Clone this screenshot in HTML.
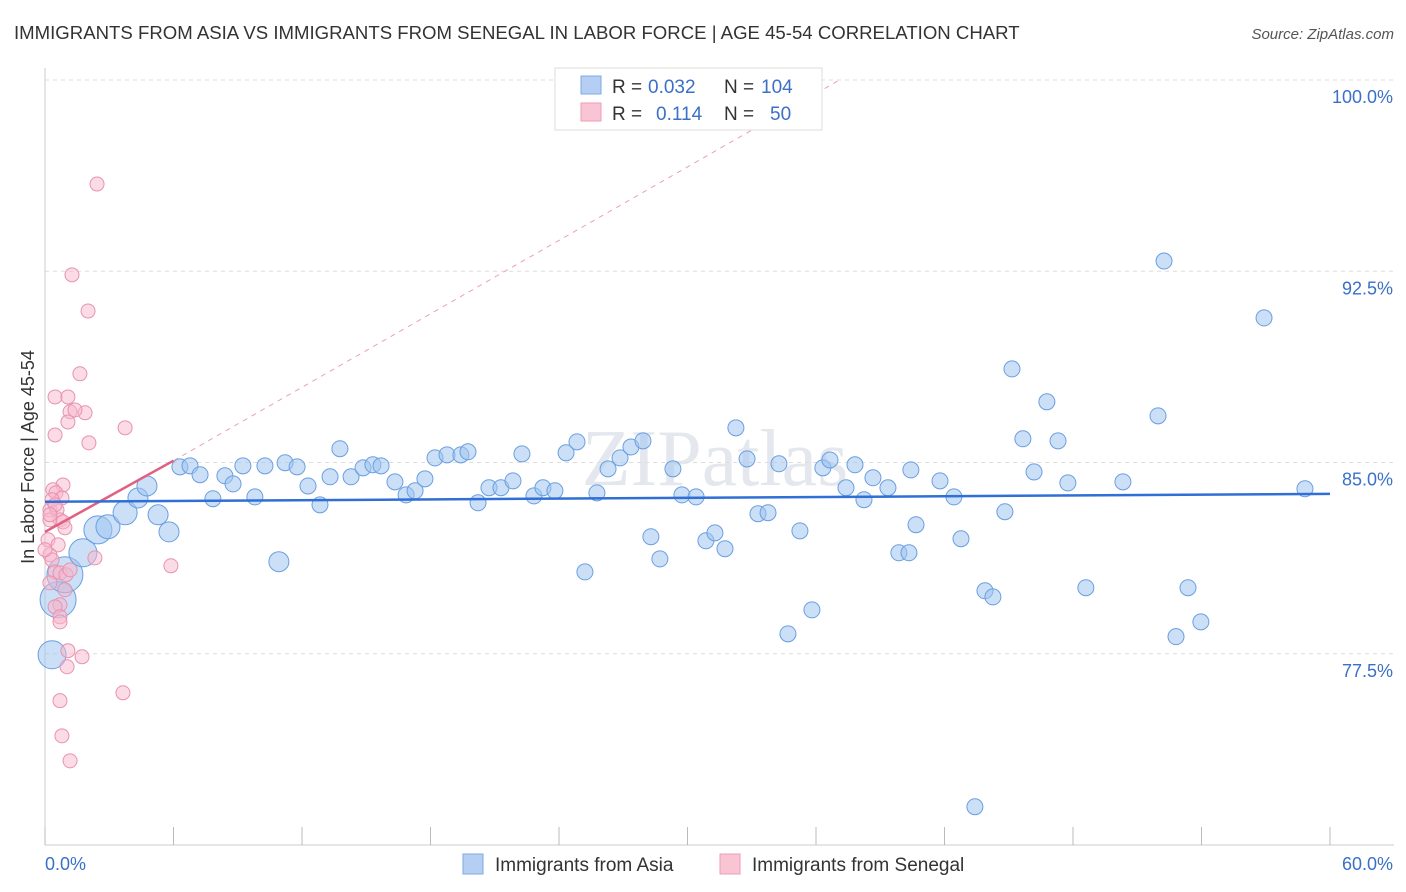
<!DOCTYPE html>
<html><head><meta charset="utf-8"><style>
body{margin:0;background:#fff;font-family:"Liberation Sans",sans-serif;}
#c{position:relative;width:1406px;height:892px;overflow:hidden}
</style></head><body>
<div id="c">
<svg id="svg" width="1406" height="892" xmlns="http://www.w3.org/2000/svg">
<text x="14" y="39" font-size="18.6" fill="#333">IMMIGRANTS FROM ASIA VS IMMIGRANTS FROM SENEGAL IN LABOR FORCE | AGE 45-54 CORRELATION CHART</text>
<text x="1394" y="39" font-size="15" fill="#555" font-style="italic" text-anchor="end">Source: ZipAtlas.com</text>
<text x="34" y="457" font-size="18" fill="#333" text-anchor="middle" transform="rotate(-90 34 457)">In Labor Force | Age 45-54</text>
<text x="715" y="485" font-size="80" fill="#e4e8ee" text-anchor="middle" font-family="Liberation Serif,serif">ZIPatlas</text>
<g id="grid"></g><g id="marks"></g>
<g>
<rect x="555" y="68" width="267" height="62" fill="#fff" stroke="#ddd"/>
<rect x="581" y="76" width="20" height="18" fill="#b4cff3" stroke="#7ea8e4"/>
<rect x="581" y="103" width="20" height="18" fill="#f9c4d4" stroke="#ee9bb4"/>
<text x="612" y="93" font-size="19" fill="#333">R =</text>
<text x="648" y="93" font-size="19" fill="#3a70c8">0.032</text>
<text x="724" y="93" font-size="19" fill="#333">N =</text>
<text x="761" y="93" font-size="19" fill="#3a70c8">104</text>
<text x="612" y="120" font-size="19" fill="#333">R =</text>
<text x="656" y="120" font-size="19" fill="#3a70c8">0.114</text>
<text x="724" y="120" font-size="19" fill="#333">N =</text>
<text x="770" y="120" font-size="19" fill="#3a70c8">50</text>
</g>
<g>
<rect x="463" y="854" width="20" height="20" fill="#b4cff3" stroke="#7ea8e4"/>
<text x="495" y="871" font-size="19" fill="#333">Immigrants from Asia</text>
<rect x="720" y="854" width="20" height="20" fill="#f9c4d4" stroke="#ee9bb4"/>
<text x="752" y="871" font-size="19" fill="#333">Immigrants from Senegal</text>
</g>
</svg></div>
<script>
const xTicks=[0,6,12,18,24,30,36,42,48,54,60];
const yTicks=[77.5,85,92.5,100];
const yTickLabels=["77.5%","85.0%","92.5%","100.0%"];
const asiaX=[0.33,0.61,0.93,1.77,2.47,2.94,3.74,4.34,4.76,5.28,5.79,6.30,6.77,7.24,7.84,8.40,8.78,9.24,9.80,10.27,10.92,11.21,11.77,12.28,12.84,13.31,13.77,14.29,14.85,15.31,15.69,16.34,16.86,17.28,17.74,18.21,18.77,19.42,19.75,20.22,20.73,21.29,21.85,22.27,22.83,23.25,23.81,24.33,24.84,25.21,25.77,26.29,26.85,27.36,27.92,28.29,28.71,29.32,29.74,30.40,30.86,31.28,31.75,32.26,32.78,33.29,33.76,34.27,34.69,35.25,35.81,36.32,36.65,37.40,37.82,38.24,38.66,39.36,39.87,40.34,40.43,40.67,41.79,42.44,42.77,43.42,43.89,44.26,44.82,45.15,45.66,46.18,46.78,47.30,47.76,48.60,50.33,51.97,52.25,52.81,53.37,53.97,56.92,58.83];
const asiaY=[77.46,79.62,80.60,81.46,82.36,82.48,83.03,83.61,84.08,82.95,82.28,84.83,84.87,84.52,83.58,84.48,84.16,84.87,83.65,84.87,81.11,84.99,84.83,84.08,83.34,84.44,85.54,84.44,84.79,84.91,84.87,84.24,83.73,83.89,84.36,85.18,85.30,85.30,85.42,83.42,84.01,84.01,84.28,85.34,83.69,84.01,83.89,85.38,85.81,80.71,83.81,84.75,85.18,85.61,85.85,82.09,81.22,84.75,83.73,83.65,81.93,82.24,81.62,86.36,85.14,82.99,83.03,84.95,78.28,82.32,79.22,84.79,85.10,84.01,84.91,83.54,84.40,84.01,81.46,81.46,84.71,82.56,84.28,83.65,82.01,71.50,79.97,79.73,83.07,88.67,85.93,84.63,87.38,85.85,84.20,80.09,84.24,86.83,92.90,78.17,80.09,78.75,90.67,83.97];
const asiaSize=[14,18,18,14,14,12,12,10,10,10,10,8,8,8,8,8,8,8,8,8,10];
const senX=[2.43,1.26,2.01,1.63,0.47,1.07,1.17,1.87,1.40,1.07,0.47,3.74,2.05,0.84,0.37,0.51,0.79,0.23,0.56,0.70,0.23,0.84,0.23,0.33,0.47,2.33,0.70,0.98,1.17,0.23,0.93,0.70,0.47,0.70,0.70,1.07,1.73,1.03,3.64,0.70,0.79,1.17,5.88,0.33,0.47,0.14,0.61,0.00,0.93,0.23];
const senY=[95.92,92.36,90.94,88.48,87.57,87.57,86.99,86.95,87.06,86.59,86.08,86.36,85.77,84.12,83.93,83.81,83.61,83.14,83.14,82.75,82.75,82.67,81.38,81.18,80.71,81.26,80.67,80.60,80.79,80.28,80.01,79.42,79.34,78.95,78.75,77.62,77.38,76.99,75.97,75.66,74.28,73.30,80.95,83.54,83.34,81.97,81.77,81.58,82.44,82.95];
const asiaTrend=[83.46,83.77];
const senTrend=[82.28,0.465];
const senDashEnd=[37.1,100];

const NS="http://www.w3.org/2000/svg";
const X0=45,X1=1330,Y0=80,YB=845;
const sx=v=>X0+(v/60)*(X1-X0);
const sy=v=>Y0+(100-v)/30*(YB-Y0);
function mk(tag,attrs,parent){const e=document.createElementNS(NS,tag);for(const k in attrs)e.setAttribute(k,attrs[k]);parent.appendChild(e);return e;}
const grid=document.getElementById('grid'),marks=document.getElementById('marks');
yTicks.forEach((t,i)=>{
  const l=mk('line',{x1:X0,x2:1394,y1:sy(t),y2:sy(t),stroke:'#ddd','stroke-dasharray':'4,4'},grid);
  
  
  const tx=mk('text',{x:1393,y:sy(t)+23,'font-size':18,fill:'#3a70c8','text-anchor':'end'},grid);
  tx.textContent=yTickLabels[i];
  
  
});
const ax=mk('line',{x1:X0,x2:1394,y1:YB,y2:YB,stroke:'#ccc'},grid);


const ay=mk('line',{x1:X0,x2:X0,y1:68,y2:YB,stroke:'#ccc'},grid);


xTicks.forEach(t=>{
  const l=mk('line',{x1:sx(t),x2:sx(t),y1:827,y2:YB,stroke:'#bbb'},grid);
  
  
});
[[0,'0.0%','start',45],[60,'60.0%','end',1393]].forEach(a=>{
  const tx=mk('text',{x:a[3],y:870,'font-size':18,fill:'#3a70c8','text-anchor':a[2]},grid);
  tx.textContent=a[1];
  
  
});
asiaX.forEach((x,i)=>{
  const c=mk('circle',{cx:sx(x),cy:sy(asiaY[i]),r:asiaSize[i]||8,fill:'rgba(160,196,240,0.55)',stroke:'#6a9fe0','stroke-width':1},marks);
  
  
});
senX.forEach((x,i)=>{
  const c=mk('circle',{cx:sx(x),cy:sy(senY[i]),r:7,fill:'rgba(247,184,205,0.5)',stroke:'#e893ae','stroke-width':1},marks);
  
  
});
const d=mk('line',{x1:sx(6),y1:sy(senTrend[0]+6*senTrend[1]),x2:sx(senDashEnd[0]),y2:sy(senDashEnd[1]),stroke:'#eaa0b6','stroke-dasharray':'5,5','stroke-width':1},marks);


const st=mk('line',{x1:sx(0),y1:sy(senTrend[0]),x2:sx(6),y2:sy(senTrend[0]+6*senTrend[1]),stroke:'#e0607f','stroke-width':2.5},marks);


const bt=mk('line',{x1:sx(0),y1:sy(asiaTrend[0]),x2:sx(60),y2:sy(asiaTrend[1]),stroke:'#2f6fd6','stroke-width':2.5},marks);


</script>
</body></html>
